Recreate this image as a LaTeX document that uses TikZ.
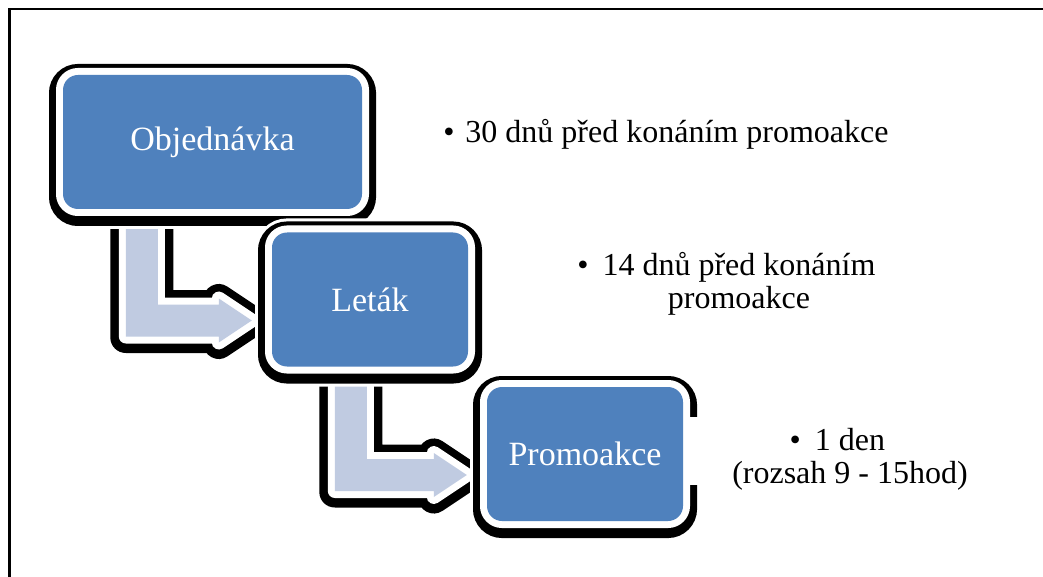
\documentclass[tikz,border=0pt]{standalone}
\usepackage{fontspec}
\setmainfont{Liberation Serif}
\usetikzlibrary{calc}
\definecolor{boxblue}{HTML}{4F81BD}
\definecolor{arrowfill}{HTML}{C0CBE1}
\newcommand{\bul}[1]{\llap{\textbullet\hspace{#1}}}
\newcommand{\bentpath}[2]{let \p1=(#1.south west), \p2=(#2.west), \n1={\x1+79pt}, \n2={\y2-21pt}, \n3={\x2-20pt} in
 (\n1-16pt,\y1) -- (\n1-16pt,\n2-16pt) -- (\n3-33pt,\n2-16pt) -- (\n3-33pt,\n2-22pt) -- (\n3,\n2)
 -- (\n3-33pt,\n2+22pt) -- (\n3-33pt,\n2+16pt) -- (\n1+16pt,\n2+16pt) -- (\n1+16pt,\y1) -- cycle}
\tikzset{
 box/.style={rounded corners=15pt, fill=boxblue, text=white, inner sep=0pt, minimum height=134pt,
   font=\fontsize{34}{40}\selectfont,
   preaction={draw=white, line width=34pt, transform canvas={yshift=-3pt}},
   preaction={draw=black, line width=28pt, transform canvas={yshift=-3pt}},
   preaction={draw=white, line width=14pt}},
 bentarrow/.style={fill=arrowfill, line join=round,
   preaction={draw=black, line width=31pt, line join=round, transform canvas={yshift=-1pt}},
   preaction={draw=white, line width=14pt, line join=round}},
 txt/.style={font=\fontsize{32}{33}\selectfont, inner sep=0pt, anchor=base},
 frameline/.style={draw=black, line width=2.5pt}
}
\begin{document}
\begin{tikzpicture}[x=1pt,y=-1pt]
\useasboundingbox (0,0) rectangle (1043,577);
\draw[frameline] (9.5,577) -- (9.5,9) -- (1043,9);
% node positions (drawn later, order matters)
\path (212.5,142) coordinate (c1) (370,299.5) coordinate (c2) (585,454) coordinate (c3);
\path (c1) node[minimum width=299pt, minimum height=134pt, inner sep=0pt] (obj0) {};
\path (c2) node[minimum width=196pt, minimum height=134pt, inner sep=0pt] (letak0) {};
\path (c3) node[minimum width=196pt, minimum height=134pt, inner sep=0pt] (promo0) {};
% bent arrows
\path[bentarrow] \bentpath{obj0}{letak0};
\path[bentarrow] \bentpath{letak0}{promo0};
% boxes
\node[box, minimum width=299pt] (obj) at (c1) {Objednávka};
\node[box, minimum width=196pt] (letak) at (c2) {Leták};
\node[box, minimum width=196pt] (promo) at (c3) {Promoakce};
\fill[white] (689,417) rectangle (701,485);
% texts
\node[txt] (t1) at (677,143) {\bul{11pt}30 dnů před konáním promoakce};
\node[txt] (t2) at (739,275) {\begin{tabular}[t]{@{}c@{}}\bul{14pt}14 dnů před konáním\\ promoakce\end{tabular}};
\node[txt] (t3) at (850,450) {\begin{tabular}[t]{@{}c@{}}\bul{14pt}1 den\\ (rozsah 9 - 15hod)\end{tabular}};
\end{tikzpicture}
\end{document}
